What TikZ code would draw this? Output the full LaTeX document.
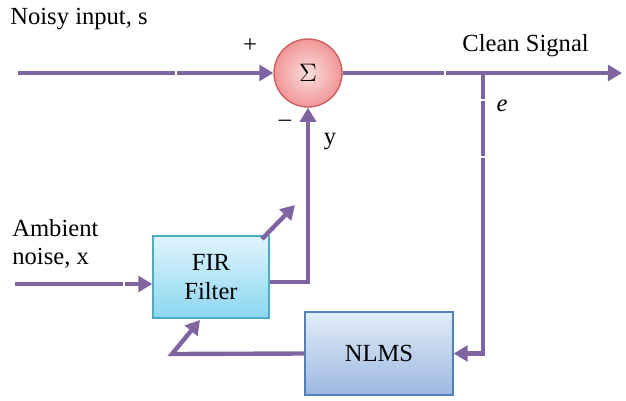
\documentclass[tikz,border=0pt]{standalone}
\usepackage{fontspec}
\setmainfont{Liberation Serif}
\usetikzlibrary{arrows.meta,shadows,calc}
\definecolor{sigc}{RGB}{128,100,162}
\definecolor{firb}{RGB}{75,172,198}
\definecolor{nlmsb}{RGB}{79,129,189}
\definecolor{sumb}{RGB}{205,95,95}
\tikzset{
  sig/.style={draw=sigc, line width=2.5pt, -{Triangle[length=8pt,width=9pt]}},
  sigline/.style={draw=sigc, line width=2.5pt},
  gap/.style={draw=white, line width=1.4pt},
  lbl/.style={font=\fontsize{14}{16}\selectfont, inner sep=0pt},
  firbox/.style={draw=firb, line width=0.8pt, shading=axis, top color={rgb,255:red,222;green,244;blue,252}, bottom color={rgb,255:red,140;green,214;blue,240}, minimum width=2.32cm, minimum height=1.64cm, align=center, font=\fontsize{14}{17}\selectfont, drop shadow={opacity=0.25, shadow xshift=0.5pt, shadow yshift=-0.8pt}},
  nlmsbox/.style={draw=nlmsb, line width=0.8pt, shading=axis, top color={rgb,255:red,226;green,236;blue,248}, bottom color={rgb,255:red,156;green,184;blue,224}, minimum width=2.96cm, minimum height=1.66cm, font=\fontsize{14}{17}\selectfont, drop shadow={opacity=0.25, shadow xshift=0.5pt, shadow yshift=-0.8pt}},
  sumnode/.style={circle, draw=sumb, line width=0.8pt, shading=radial, inner color={rgb,255:red,252;green,222;blue,222}, outer color={rgb,255:red,240;green,150;blue,150}, minimum size=1.36cm, font=\fontsize{14}{16}\selectfont, inner sep=0pt}
}
\begin{document}
\begin{tikzpicture}[x=0.02cm, y=-0.02cm]
\useasboundingbox (0,0) rectangle (626,400);
% nodes
\node[sumnode] (sum) at (308,73) {$\Sigma$};
\node[firbox] (fir) at (211,277) {FIR\\Filter};
\node[nlmsbox] (nlms) at (379,353.5) {NLMS};
% coordinates
\coordinate (in) at (18,73);
\coordinate (out) at (622,73);
\coordinate (br) at (483,73);
\coordinate (nin) at (15,284);
\coordinate (fbl) at (172,354);
\coordinate (fbe) at (200,320);
\coordinate (dgs) at (262,239);
\coordinate (dge) at (295,205);
% connectors
\draw[sig] (in) -- (sum.west);
\draw[sig] (sum.east) -- (out);
\draw[sig] (br) |- (nlms.east);
\draw[sig] ($(fir.east)+(0,5)$) -| (sum.south);
\draw[sig] (nin) -- (nin -| fir.west);
\draw[sig] (nlms.west) -- (fbl) -- (fbe);
\draw[sig] (dgs) -- (dge);
% small gaps
\draw[gap] (176,68) -- (176,78);
\draw[gap] (445,68) -- (445,78);
\draw[gap] (478,100) -- (488,100);
\draw[gap] (478,157) -- (488,157);
\draw[gap] (124,279) -- (124,289);
% labels
\node[lbl, anchor=west] (ns) at (10,19) {Noisy input, s};
\node[lbl] (plus) at (250,46) {+};
\node[lbl] (minus) at (285,123) {\textendash};
\node[lbl] (ylab) at (330,142) {y};
\node[lbl, anchor=west] (cs) at (462,46) {Clean Signal};
\node[lbl] (elab) at (502,106) {\textit{e}};
\node[lbl, anchor=north west, align=left] (amb) at (12,219) {Ambient\\noise, x};
\end{tikzpicture}
\end{document}
